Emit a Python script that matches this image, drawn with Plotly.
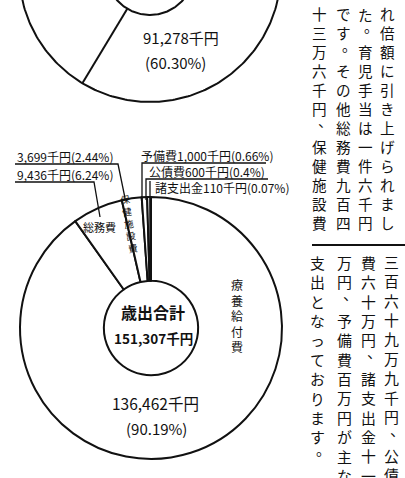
import numpy as np
import plotly.graph_objects as go

# ---------------- data ----------------
categories = ["療養給付費", "総務費", "保健施設費", "予備費", "公債費", "諸支出金"]
amounts = [136462, 9436, 3699, 1000, 600, 110]          # 千円
share_text = ["90.19", "6.24", "2.44", "0.66", "0.4", "0.07"]  # %
total_amount = 151307
center_title = "歳出合計"

top_amounts = [91278]          # visible slice of the upper (cut-off) chart
top_share_text = ["60.30"]
top_shares = [60.30, 39.70]    # visible slice + rest (not visible)

text_upper = ["十三万六千円、保健施設費", "です。その他総務費九百四",
              "た。育児手当は一件六千円", "れ倍額に引き上げられまし"]
text_lower = ["支出となっております。", "万円、予備費百万円が主な",
              "費六十万円、諸支出金十一", "三百六十九万九千円、公債"]

# ---------------- layout constants ----------------
W, H = 405, 478
JP = "Noto Sans CJK JP"
INK = "#111111"

fig = go.Figure()

# lower donut (pie trace)
cx, cy, R, HOLE = 151, 328, 131, 0.36
fig.add_trace(go.Pie(
    labels=categories, values=amounts, sort=False, direction="clockwise",
    rotation=0, hole=HOLE, textinfo="none", hoverinfo="label+value",
    showlegend=False,
    marker=dict(colors=["white"] * len(amounts), line=dict(color=INK, width=2)),
    domain=dict(x=[(cx - R) / W, (cx + R) / W], y=[(H - cy - R) / H, (H - cy + R) / H]),
))

# upper (cut-off) donut drawn on pixel-scaled axes
tcx, tcy, tR, tr = 150, -29, 131, 44
top_rot = -6
th = np.radians(np.arange(0, 361, 1))
for rad in (tR, tr):
    fig.add_trace(go.Scatter(x=tcx + rad * np.sin(th), y=tcy - rad * np.cos(th),
                             mode="lines", line=dict(color=INK, width=2),
                             hoverinfo="skip", showlegend=False))
cum = np.cumsum([0] + top_shares) / sum(top_shares)
for c in cum[:-1]:
    a = np.radians(top_rot + 360 * c)
    fig.add_trace(go.Scatter(x=[tcx + tr * np.sin(a), tcx + tR * np.sin(a)],
                             y=[tcy - tr * np.cos(a), tcy - tR * np.cos(a)],
                             mode="lines", line=dict(color=INK, width=2),
                             hoverinfo="skip", showlegend=False))

ann = []
shapes = []

def txt(x, y, s, size=11, bold=False, xanchor="center", **kw):
    ann.append(dict(x=x, y=y, xref="x", yref="y", text=("<b>%s</b>" % s) if bold else s,
                    showarrow=False, xanchor=xanchor, yanchor="middle",
                    font=dict(family=JP, size=size, color=INK), **kw))

def path(pts, width=1.3):
    d = "M " + " L ".join("%s,%s" % p for p in pts)
    shapes.append(dict(type="path", path=d, xref="x", yref="y",
                       line=dict(color=INK, width=width)))

# upper chart labels
txt(181, 37, "%s千円" % format(top_amounts[0], ","), size=15)
txt(175, 62, "(%s%%)" % top_share_text[0], size=15)

# center of donut
txt(153, 312, center_title, size=16, bold=True)
txt(153, 338, "%s千円" % format(total_amount, ","), size=13.5, bold=True)

# big slice labels
txt(155, 403, "%s千円" % format(amounts[0], ","), size=15.5)
txt(156, 428, "(%s%%)" % share_text[0], size=15)
ann.append(dict(x=237, y=315, xref="x", yref="y", text="<br>".join(categories[0]),
                showarrow=False, font=dict(family=JP, size=12, color=INK)))

# 総務費 label inside slice
txt(99, 227, categories[1], size=11)
# 保健施設費 vertical in thin slice
ann.append(dict(x=129, y=223, xref="x", yref="y", text="<br>".join(categories[2]),
                showarrow=False, textangle=-9, font=dict(family=JP, size=9.5, color=INK)))

# left callouts
def lab(i):
    return "%s千円(%s%%)" % (format(amounts[i], ","), share_text[i])

txt(15, 156, lab(2), size=12, xanchor="left")
path([(15, 164), (118, 164), (125, 198)])
txt(15, 174, lab(1), size=12, xanchor="left")
path([(15, 182), (94, 182), (100, 217)])

# right callouts
txt(139, 155, categories[3] + lab(3), size=12, xanchor="left")
path([(266, 163), (142, 163), (142, 203)])
txt(147, 171, categories[4] + lab(4), size=12, xanchor="left")
path([(268, 179), (146, 179), (146, 200)])
txt(153, 187, categories[5] + lab(5), size=12, xanchor="left")
path([(150, 181), (150, 198)])

# vertical article text
PUNCT = "、。"
def column(x, y0, s, size=14.8):
    pitch = 1.3 * size
    i = 0
    while i < len(s):
        if s[i] in PUNCT:
            txt(x, y0 + i * pitch, s[i], size=size, xshift=6, yshift=7)
            i += 1
            continue
        j = i
        while j < len(s) and s[j] not in PUNCT:
            j += 1
        ann.append(dict(x=x, y=y0 + (i + (j - i - 1) / 2) * pitch, xref="x", yref="y",
                        text="<br>".join(s[i:j]), showarrow=False,
                        xanchor="center", yanchor="middle",
                        font=dict(family=JP, size=size, color=INK)))
        i = j

for x, s in zip([319, 343, 365, 387], text_upper):
    column(x, 14, s, size=14.6)
for x, s in zip([317, 344, 368, 391], text_lower):
    column(x, 262, s, size=14.9)

shapes.append(dict(type="line", x0=312, x1=405, y0=245, y1=245, xref="x", yref="y",
                   line=dict(color=INK, width=2)))

fig.update_layout(
    width=W, height=H, margin=dict(l=0, r=0, t=0, b=0),
    paper_bgcolor="white", plot_bgcolor="white",
    xaxis=dict(range=[0, W], visible=False, fixedrange=True, domain=[0, 1]),
    yaxis=dict(range=[H, 0], visible=False, fixedrange=True, domain=[0, 1]),
    annotations=ann, shapes=shapes, showlegend=False,
)

fig.write_html("out.html", config={"displayModeBar": False},
               post_script="document.body.style.margin='0px';document.body.style.overflow='hidden';")
